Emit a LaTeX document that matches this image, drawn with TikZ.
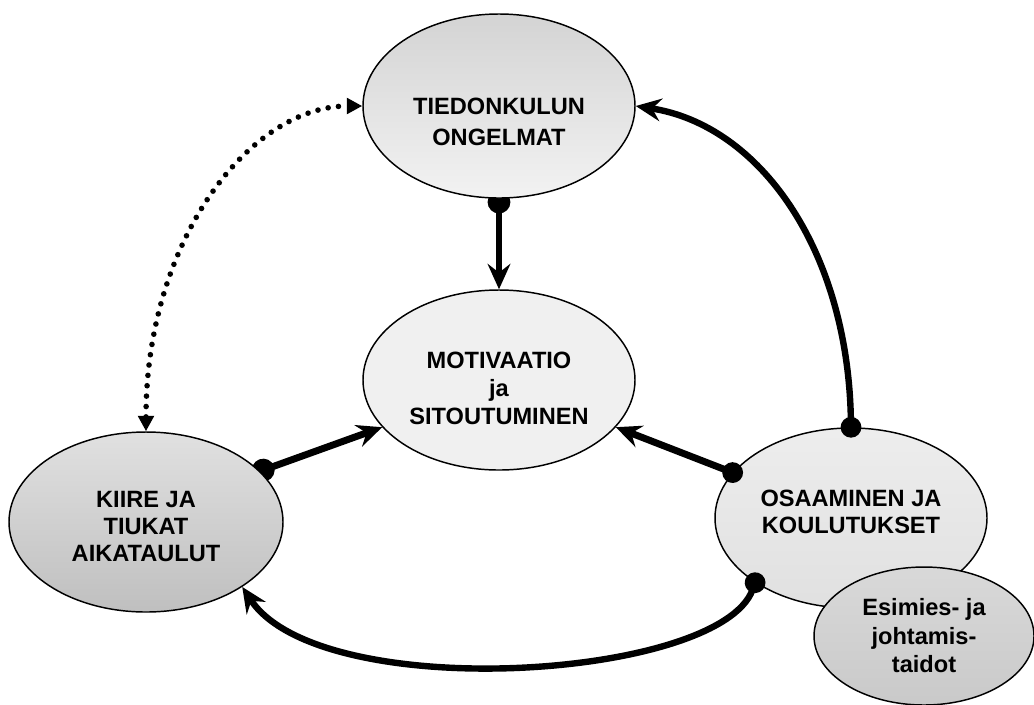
\documentclass[tikz,border=0pt]{standalone}
\usepackage{fontspec}
\setmainfont{Liberation Sans}
\usetikzlibrary{shapes.geometric,arrows.meta}
\pgfdeclarelayer{conn}
\pgfsetlayers{conn,main}
\begin{document}
\begin{tikzpicture}[x=0.75pt,y=-0.75pt,
  bubble/.style={ellipse,draw=black,line width=1.1pt,inner sep=0pt},
  lbl/.style={align=center,inner sep=0pt,font=\bfseries\fontsize{17.7pt}{21pt}\selectfont},
  conline/.style={line width=5.2pt},
  curveline/.style={line width=4.8pt},
  pinhead/.style={{Circle[length=17pt]}-{Stealth[length=19pt,width=17pt,inset=6.5pt]},shorten <=-6pt},
  dothead/.style={{Circle[length=15.5pt]}-{Stealth[length=19pt,width=17pt,inset=6.5pt]},shorten <=-7.75pt},
  dotline/.style={line width=4.2pt,line cap=round,dash pattern=on 0pt off 7.8pt,
    {Triangle[length=11.5pt,width=11.5pt]}-{Triangle[length=11.5pt,width=11.5pt]}}
]
\useasboundingbox (0,0) rectangle (1034,704);

\node[bubble,minimum width=204pt,minimum height=138pt,top color=black!17,bottom color=black!5,
  label={[lbl,yshift=-11.6pt,font=\bfseries\fontsize{17.7pt}{23.2pt}\selectfont]center:{TIEDONKULUN\\ONGELMAT}}] (T) at (499,106) {};
\node[bubble,minimum width=204pt,minimum height=135pt,fill=black!6,
  label={[lbl,yshift=-6pt]center:{MOTIVAATIO\\ja\\SITOUTUMINEN}}] (M) at (499,380) {};
\node[bubble,minimum width=205.5pt,minimum height=135pt,top color=black!12,bottom color=black!25,
  label={[lbl,yshift=-3.4pt,font=\bfseries\fontsize{17.7pt}{20.3pt}\selectfont]center:{KIIRE JA\\TIUKAT\\AIKATAULUT}}] (K) at (146,522) {};
\node[bubble,minimum width=204pt,minimum height=135pt,top color=black!7,bottom color=black!12,
  label={[lbl,yshift=4.9pt,font=\bfseries\fontsize{17.7pt}{20.3pt}\selectfont]center:{OSAAMINEN JA\\KOULUTUKSET}}] (O) at (851,518) {};
\node[bubble,minimum width=165pt,minimum height=103.5pt,top color=black!15,bottom color=black!21,
  label={[lbl,font=\bfseries\fontsize{17.7pt}{21.4pt}\selectfont]center:{Esimies- ja\\johtamis-\\taidot}}] (E) at (924,636) {};

\begin{pgfonlayer}{conn}
\draw[conline,pinhead] (T.south) -- (M.north);
\draw[conline,pinhead] (K.24) -- (M.202);
\end{pgfonlayer}

\draw[conline,dothead] (O.159) -- (M.338);
\draw[curveline,dothead] (O.north) .. controls (848,250) and (760,125) .. (T.east);
\draw[curveline,dothead] (O.214) .. controls (720,680) and (320,705) .. (K.326);
\draw[dotline] (K.north) .. controls (146,240) and (250,106) .. (T.west);
\end{tikzpicture}
\end{document}
